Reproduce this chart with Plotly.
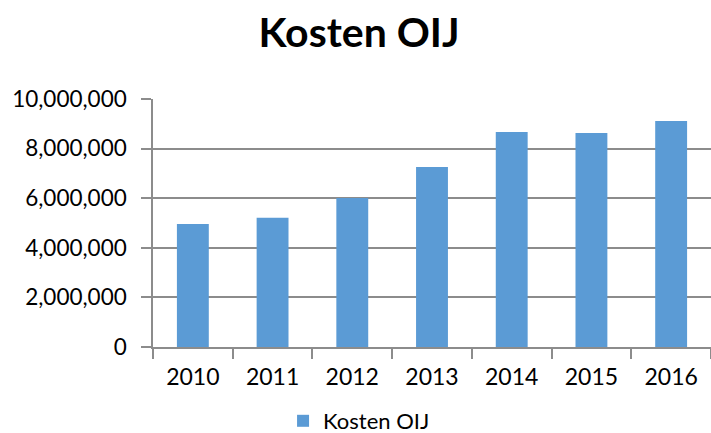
import plotly.graph_objects as go

years = ["2010", "2011", "2012", "2013", "2014", "2015", "2016"]
kosten = [4960000, 5210000, 6010000, 7260000, 8670000, 8630000, 9110000]
series_name = "Kosten OIJ"
title_text = "Kosten OIJ"

fig = go.Figure()
fig.add_trace(go.Bar(x=years, y=kosten, name=series_name, marker=dict(color="#5B9BD5", line=dict(width=0))))

grid = "#8c8c8c"
fig.update_layout(
    width=711, height=433,
    margin=dict(l=153, r=0, t=99, b=86, autoexpand=False),
    paper_bgcolor="white", plot_bgcolor="white",
    font=dict(family="Lato", color="#000000"),
    title=dict(text="<b>" + title_text + "</b>", x=0.505, xref="container", xanchor="center",
               y=1 - 33 / 433, yref="container", yanchor="middle",
               font=dict(family="Lato", size=41, color="#000000")),
    bargap=0.6,
    showlegend=True,
    legend=dict(orientation="h", x=0.505, xref="container", xanchor="center",
                y=1 - 421 / 433, yref="container", yanchor="middle",
                font=dict(size=22, family="Lato"), itemwidth=30),
    xaxis=dict(type="category", showline=True, linecolor=grid, linewidth=1.5, automargin=False,
               ticks="outside", tickson="boundaries", ticklen=10, tickcolor=grid, tickwidth=1.5,
               ticklabelstandoff=9,
               tickfont=dict(size=23, family="Lato"), showgrid=False),
    yaxis=dict(range=[0, 10000000], dtick=2000000, tickformat=",d", showline=True, automargin=False,
               linecolor=grid, linewidth=1.5, ticks="outside", ticklen=10, tickcolor=grid,
               tickwidth=1.5, ticklabelstandoff=10,
               showgrid=True, gridcolor=grid, gridwidth=1.5, zeroline=False,
               tickfont=dict(size=22.5, family="Lato")),
)

fig.write_html("out.html", config={"displayModeBar": False},
               post_script="document.body.style.margin='0';document.body.style.overflow='hidden';")
